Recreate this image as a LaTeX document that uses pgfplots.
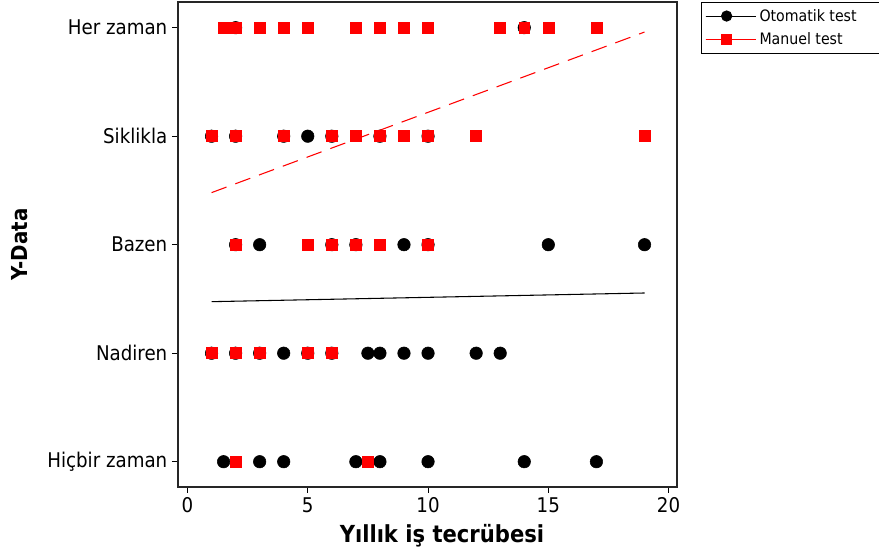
\documentclass[border=0pt]{standalone}
\usepackage{fontspec}
\setmainfont{DejaVu Sans Condensed}
\usepackage{pgfplots}
\pgfplotsset{compat=1.18}
\begin{document}
\begin{tikzpicture}
\begin{axis}[
  name=ax,
  scale only axis,
  width=374.25pt, height=363.75pt,
  xmin=-0.395, xmax=20.35,
  ymin=0.767, ymax=5.237,
  xtick={0,5,10,15,20},
  ytick={1,2,3,4,5},
  yticklabels={Hiçbir zaman, Nadiren, Bazen, Siklikla, Her zaman},
  tick align=outside, xtick pos=left, ytick pos=left,
  major tick length=4.5pt,
  tick style={black, line width=0.8pt},
  axis line style={black!85, line width=1pt},
  every tick label/.append style={font=\fontsize{15.2}{18}\selectfont},
  /pgf/number format/assume math mode=true,
  xlabel={Yıllık iş tecrübesi},
  ylabel={Y-Data},
  label style={font=\fontsize{16.5}{19}\selectfont\bfseries},
  xlabel style={font=\fontsize{17.6}{20}\selectfont\bfseries, at={(axis description cs:0.529,0)}, anchor=center, yshift=-36.75pt},
  ylabel style={at={(axis description cs:-0.3166,0.5)}, anchor=center},
  legend style={at={(1.0475,1)}, anchor=north west, draw=black, line width=0.6pt,
    font=\fontsize{11.8}{13}\selectfont, cells={anchor=west}, row sep=3pt, inner ysep=3pt, inner xsep=3pt},
  legend image code/.code={\draw[mark repeat=2,mark phase=2,#1] plot coordinates {(0pt,0pt)(15.75pt,0pt)(31.5pt,0pt)}; \path (0pt,0pt) -- (38pt,0pt);},
]
% Otomatik test
\addplot[only marks, mark=*, mark size=4.7pt, black, forget plot] coordinates {
 (2,5) (14,5)
 (1,4) (2,4) (4,4) (5,4) (6,4) (8,4) (10,4)
 (2,3) (3,3) (6,3) (7,3) (9,3) (10,3) (15,3) (19,3)
 (1,2) (2,2) (3,2) (4,2) (5,2) (6,2) (7.5,2) (8,2) (9,2) (10,2) (12,2) (13,2)
 (1.5,1) (3,1) (4,1) (7,1) (8,1) (10,1) (14,1) (17,1)
};
% Manuel test
\addplot[only marks, mark=square*, mark size=4.1pt, red, forget plot] coordinates {
 (1.5,5) (2,5) (3,5) (4,5) (5,5) (7,5) (8,5) (9,5) (10,5) (13,5) (14,5) (15,5) (17,5)
 (1,4) (2,4) (4,4) (6,4) (7,4) (8,4) (9,4) (10,4) (12,4) (19,4)
 (2,3) (5,3) (6,3) (7,3) (8,3) (10,3)
 (1,2) (2,2) (3,2) (5,2) (6,2)
 (2,1) (7.5,1)
};
% fitted lines
\addplot[black, line width=0.8pt, forget plot] coordinates {(1,2.475) (19,2.555)};
\addplot[red, line width=0.8pt, dash pattern=on 12pt off 7pt, forget plot] coordinates {(1,3.48) (19,4.96)};
\addlegendimage{black, mark=*, line width=0.8pt, mark size=3.8pt}
\addlegendentry{Otomatik test\hspace*{12pt}}
\addlegendimage{red, mark=square*, line width=0.8pt, mark size=3.5pt}
\addlegendentry{Manuel test}
\end{axis}
\pgfresetboundingbox
\path ([xshift=-133.5pt,yshift=-51pt]ax.south west) rectangle ([xshift=151.5pt,yshift=1.5pt]ax.north east);
\end{tikzpicture}
\end{document}
